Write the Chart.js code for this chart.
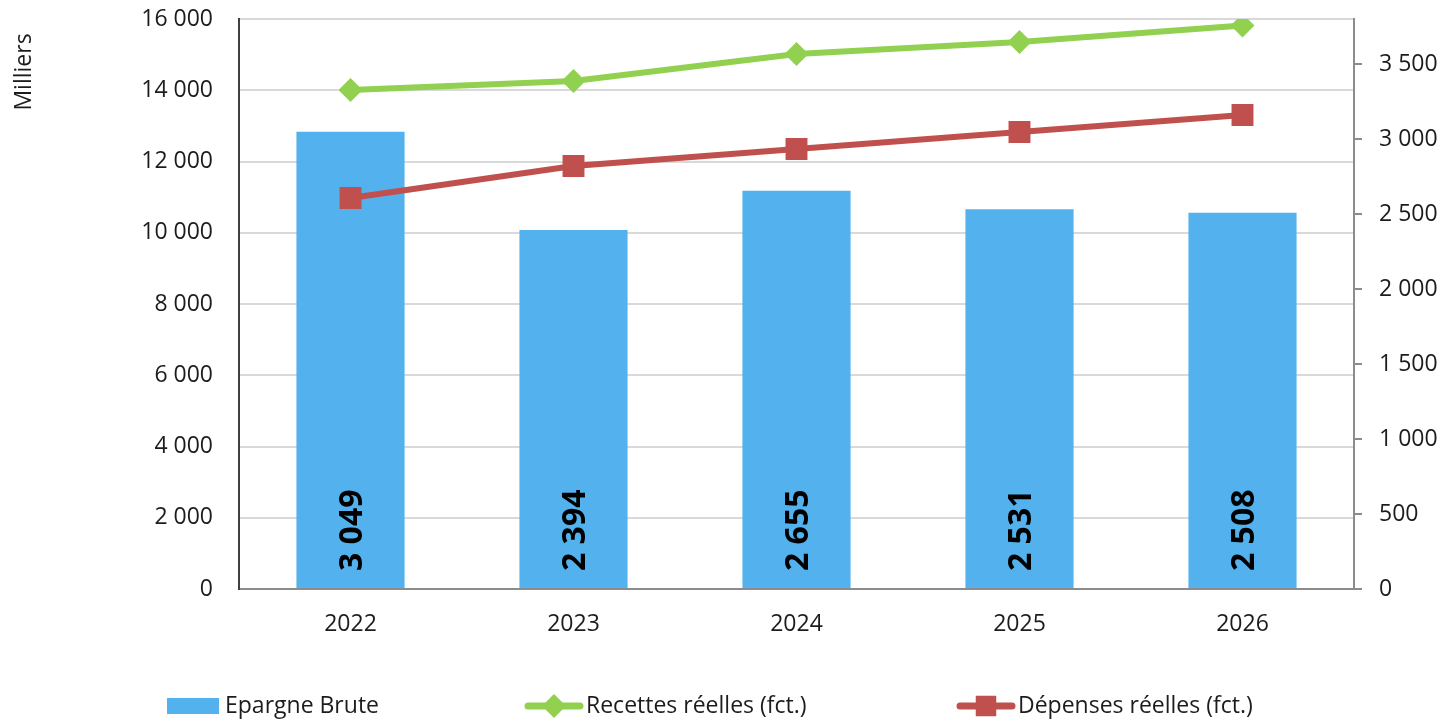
<!DOCTYPE html>
<html>
<head>
<meta charset="utf-8">
<script src="https://cdn.jsdelivr.net/npm/chart.js@4"></script>
<style>
  html, body { margin: 0; padding: 0; background: #fff; }
  #wrap { width: 1443px; height: 719px; position: relative; }
</style>
</head>
<body>
<div id="wrap"><canvas id="epargneChart"></canvas></div>
<script>
// data
var years = ['2022', '2023', '2024', '2025', '2026'];
var epargneBrute = [3049, 2394, 2655, 2531, 2508];
var recettes = [14007, 14260, 15018, 15354, 15815];
var depenses = [10975, 11874, 12351, 12828, 13305];
var leftTicks = { min: 0, max: 16000, step: 2000 };
var rightTicks = [0, 500, 1000, 1500, 2000, 2500, 3000, 3500];
var rightMax = 3800;

var seriesNames = ['Epargne Brute', 'Recettes réelles (fct.)', 'Dépenses réelles (fct.)'];
var colBar = '#53B1EE', colGreen = '#92D050', colRed = '#C0504D';
var textCol = '#1c1c1c';
var fontFam = "'Open Sans', sans-serif";
var fs = 23;

function fmt(v) {
  return String(v).replace(/\B(?=(\d{3})+(?!\d))/g, ' ');
}

function drawMarker(ctx, style, x, y, r, color) {
  ctx.save();
  ctx.fillStyle = color;
  ctx.beginPath();
  if (style === 'rectRot') {
    ctx.moveTo(x - r, y); ctx.lineTo(x, y - r); ctx.lineTo(x + r, y); ctx.lineTo(x, y + r);
  } else {
    var s = r * Math.SQRT1_2;
    ctx.rect(x - s, y - s, 2 * s, 2 * s);
  }
  ctx.closePath();
  ctx.fill();
  ctx.restore();
}

// vertical bold value inside each bar, near the bottom
var barLabels = {
  id: 'barLabels',
  afterDatasetsDraw: function(chart) {
    var ctx = chart.ctx;
    var meta = chart.getDatasetMeta(0);
    var size = 32;
    ctx.save();
    ctx.font = 'bold ' + size + 'px ' + fontFam;
    ctx.fillStyle = '#000';
    ctx.textAlign = 'left';
    ctx.textBaseline = 'alphabetic';
    meta.data.forEach(function(bar, i) {
      ctx.save();
      ctx.translate(bar.x, bar.base - 17);
      ctx.rotate(-Math.PI / 2);
      ctx.fillText(fmt(epargneBrute[i]), 0, size * 0.357);
      ctx.restore();
    });
    ctx.restore();
  }
};

// legend row + "Milliers" axis caption
var extras = {
  id: 'extras',
  afterDraw: function(chart) {
    var ctx = chart.ctx;
    var ly = 706;
    var starts = [167, 525, 957];
    ctx.save();
    ctx.font = fs + 'px ' + fontFam;
    ctx.fillStyle = textCol;
    ctx.textBaseline = 'middle';
    ctx.textAlign = 'left';

    // bar item
    ctx.fillStyle = colBar;
    ctx.fillRect(starts[0], ly - 8, 52, 16);
    ctx.fillStyle = textCol;
    ctx.fillText(seriesNames[0], starts[0] + 58, ly);

    // line items
    [[colGreen, 'rectRot', 12], [colRed, 'rect', 14.5]].forEach(function(it, k) {
      var x0 = starts[k + 1];
      ctx.strokeStyle = it[0];
      ctx.lineWidth = 7;
      ctx.lineCap = 'round';
      ctx.beginPath();
      ctx.moveTo(x0 + 3, ly);
      ctx.lineTo(x0 + 55, ly);
      ctx.stroke();
      drawMarker(ctx, it[1], x0 + 29, ly, it[2], it[0]);
      ctx.fillStyle = textCol;
      ctx.fillText(seriesNames[k + 1], x0 + 61, ly);
    });

    // left axis caption
    ctx.translate(24, 72);
    ctx.rotate(-Math.PI / 2);
    ctx.textAlign = 'center';
    ctx.fillText('Milliers', 0, 0);
    ctx.restore();
  }
};

function fixV(w) {
  return function(s) { s.width = w; s.paddingTop = 0; s.paddingBottom = 0; };
}

var ctx = document.getElementById('epargneChart');
var myChart = new Chart(ctx, {
  type: 'bar',
  data: {
    labels: years,
    datasets: [{
      type: 'bar',
      label: seriesNames[0],
      data: epargneBrute,
      backgroundColor: colBar,
      yAxisID: 'y1',
      categoryPercentage: 1,
      barPercentage: 0.485,
      order: 3
    }, {
      type: 'line',
      label: seriesNames[1],
      data: recettes,
      borderColor: colGreen,
      backgroundColor: colGreen,
      borderWidth: 6,
      pointStyle: 'rectRot',
      pointRadius: 12,
      pointHoverRadius: 12,
      pointBorderWidth: 0,
      yAxisID: 'y',
      order: 1
    }, {
      type: 'line',
      label: seriesNames[2],
      data: depenses,
      borderColor: colRed,
      backgroundColor: colRed,
      borderWidth: 6,
      pointStyle: 'rect',
      pointRadius: 15.5,
      pointHoverRadius: 15.5,
      pointBorderWidth: 0,
      yAxisID: 'y',
      order: 2
    }]
  },
  options: {
    responsive: true,
    maintainAspectRatio: false,
    animation: false,
    layout: { padding: { top: 19, left: 0, right: 0, bottom: 0 } },
    plugins: {
      legend: { display: false },
      tooltip: { enabled: false }
    },
    scales: {
      x: {
        grid: { display: false, drawTicks: false },
        border: { display: true, color: '#8c8c8c', width: 2 },
        ticks: { color: textCol, font: { family: fontFam, size: fs }, padding: 22 },
        afterFit: function(s) { s.height = 130; }
      },
      y: {
        position: 'left',
        min: leftTicks.min,
        max: leftTicks.max,
        grid: { color: '#d9d9d9', lineWidth: 2, drawTicks: false },
        border: { display: true, color: '#404040', width: 2 },
        ticks: {
          stepSize: leftTicks.step,
          color: textCol,
          font: { family: fontFam, size: fs },
          padding: 26,
          callback: function(v) { return fmt(v); }
        },
        afterFit: fixV(239)
      },
      y1: {
        position: 'right',
        min: 0,
        max: rightMax,
        grid: { drawOnChartArea: false, drawTicks: true, tickLength: 8, color: '#8c8c8c', lineWidth: 2 },
        border: { display: true, color: '#8c8c8c', width: 2 },
        afterBuildTicks: function(s) {
          s.ticks = rightTicks.map(function(v) { return { value: v }; });
        },
        ticks: {
          color: textCol,
          font: { family: fontFam, size: fs },
          padding: 17,
          callback: function(v) { return fmt(v); }
        },
        afterFit: fixV(89)
      }
    }
  },
  plugins: [barLabels, extras]
});
</script>
</body>
</html>
